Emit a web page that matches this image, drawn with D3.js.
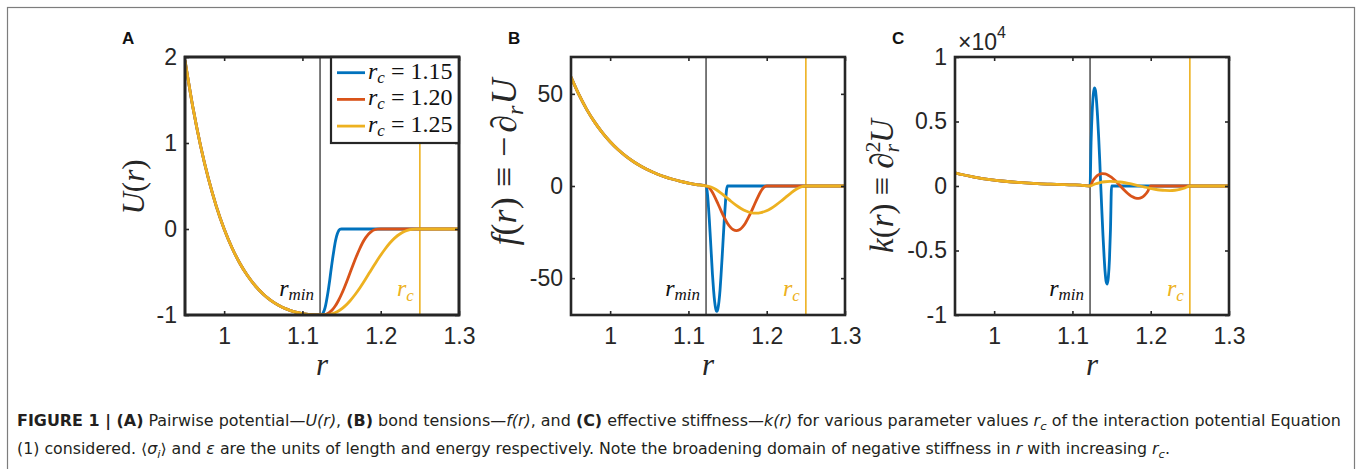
<!DOCTYPE html>
<html><head><meta charset="utf-8">
<script src="https://cdn.jsdelivr.net/npm/d3@7"></script>
<style>body{margin:0;background:#fff;} svg{display:block;}</style>
</head><body>
<svg id="fig" width="1360" height="469"></svg>
<script>
// ---------------- DATA ----------------
// shared Lennard-Jones part (r < r_min)
const rLJ = [0.95, 0.96, 0.97, 0.98, 0.99, 1.00, 1.01, 1.02, 1.03, 1.04, 1.05, 1.06, 1.07, 1.08, 1.09, 1.10, 1.11];
const uLJ = [1.961, 1.418, 0.963, 0.582, 0.264, 0, -0.218, -0.398, -0.544, -0.663, -0.758, -0.832, -0.889, -0.932, -0.963, -0.983, -0.995];
const fLJ = [59.1, 49.67, 41.61, 34.78, 28.95, 24.0, 19.79, 16.21, 13.17, 10.59, 8.40, 6.54, 4.97, 3.65, 2.53, 1.59, 0.80];
const kLJ = [1026, 872, 741, 631, 536, 456, 388, 330, 280, 238, 201, 171, 144, 122, 102, 86, 72];

// cutoff part, r_c = 1.15
const rCut115 = [1.1225, 1.1238, 1.1252, 1.1266, 1.1280, 1.1294, 1.1307, 1.1321, 1.1335, 1.1349, 1.1362, 1.1376, 1.1390, 1.1404, 1.1417, 1.1431, 1.1445, 1.1459, 1.1473, 1.1486, 1.15];
const uCut115 = [-1, -0.9988, -0.9914, -0.9734, -0.9421, -0.8965, -0.8369, -0.7648, -0.6826, -0.5931, -0.5, -0.4069, -0.3174, -0.2352, -0.1631, -0.1035, -0.0579, -0.0266, -0.0086, -0.0012, 0];
const fCut115 = [0, -2.46, -8.82, -17.71, -27.89, -38.30, -48.04, -56.38, -62.74, -66.73, -68.08, -66.73, -62.74, -56.38, -48.04, -38.30, -27.89, -17.71, -8.82, -2.46, 0];
const kCut115 = [0, 3382, 5696, 7061, 7595, 7417, 6645, 5399, 3797, 1958, 0, -1958, -3797, -5399, -6645, -7417, -7595, -7061, -5696, -3382, 0];

// cutoff part, r_c = 1.20
const rCut120 = [1.1225, 1.1263, 1.1302, 1.1341, 1.1380, 1.1419, 1.1457, 1.1496, 1.1535, 1.1574, 1.1612, 1.1651, 1.1690, 1.1729, 1.1767, 1.1806, 1.1845, 1.1884, 1.1922, 1.1961, 1.20];
const uCut120 = [-1, -0.9988, -0.9914, -0.9734, -0.9421, -0.8965, -0.8369, -0.7648, -0.6826, -0.5931, -0.5, -0.4069, -0.3174, -0.2352, -0.1631, -0.1035, -0.0579, -0.0266, -0.0086, -0.0012, 0];
const fCut120 = [0, -0.87, -3.13, -6.29, -9.91, -13.60, -17.06, -20.03, -22.29, -23.70, -24.18, -23.70, -22.29, -20.03, -17.06, -13.60, -9.91, -6.29, -3.13, -0.87, 0];
const kCut120 = [0, 427, 719, 891, 958, 936, 838, 681, 479, 247, 0, -247, -479, -681, -838, -936, -958, -891, -719, -427, 0];

// cutoff part, r_c = 1.25
const rCut125 = [1.1225, 1.1288, 1.1352, 1.1416, 1.1480, 1.1543, 1.1607, 1.1671, 1.1735, 1.1799, 1.1862, 1.1926, 1.1990, 1.2054, 1.2117, 1.2181, 1.2245, 1.2309, 1.2372, 1.2436, 1.25];
const uCut125 = [-1, -0.9988, -0.9914, -0.9734, -0.9421, -0.8965, -0.8369, -0.7648, -0.6826, -0.5931, -0.5, -0.4069, -0.3174, -0.2352, -0.1631, -0.1035, -0.0579, -0.0266, -0.0086, -0.0012, 0];
const fCut125 = [0, -0.53, -1.91, -3.82, -6.02, -8.27, -10.37, -12.17, -13.55, -14.41, -14.70, -14.41, -13.55, -12.17, -10.37, -8.27, -6.02, -3.82, -1.91, -0.53, 0];
const kCut125 = [0, 158, 266, 329, 354, 346, 310, 252, 177, 91, 0, -91, -177, -252, -310, -346, -354, -329, -266, -158, 0];

// flat tail beyond r_c
const rTail = [1.3];
const vTail = [0];

const rMin = 1.1225;
const rCutMarked = 1.25;
const legendValues = ["1.15", "1.20", "1.25"];

const xDomain = [0.95, 1.3];
const xTicks = [1, 1.1, 1.2, 1.3];
const xTickLabels = ["1", "1.1", "1.2", "1.3"];
const yTicksA = [-1, 0, 1, 2];
const yTickLabelsA = ["-1", "0", "1", "2"];
const yTicksB = [-50, 0, 50];
const yTickLabelsB = ["-50", "0", "50"];
const yTicksC = [-10000, -5000, 0, 5000, 10000];
const yTickLabelsC = ["-1", "-0.5", "0", "0.5", "1"];

// ---------------- STYLE ----------------
const colors = ["#0072BD", "#D95319", "#EDB120"];
const AX = "#262626";
const SANS = "'Liberation Sans', Arial, Helvetica, sans-serif";
const SERIF = "'Liberation Serif', 'Times New Roman', serif";
const W = 274, TOP = 57, BOTTOM = 315;

const svg = d3.select("#fig");
svg.append("rect").attr("width", 1360).attr("height", 469).attr("fill", "#fff");
svg.append("rect").attr("x", 7.5).attr("y", 7.5).attr("width", 1347).attr("height", 490)
  .attr("fill", "none").attr("stroke", "#7d7d7d").attr("stroke-width", 1.2);

function build(r0, v0, r1, v1) {
  return r0.map((r, i) => [r, v0[i]])
    .concat(r1.map((r, i) => [r, v1[i]]))
    .concat(rTail.map((r, i) => [r, vTail[i]]));
}

const panels = [
  { key: "A", left: 185, yDomain: [-1, 2], yTicks: yTicksA, yLabels: yTickLabelsA,
    series: [build(rLJ, uLJ, rCut115, uCut115), build(rLJ, uLJ, rCut120, uCut120), build(rLJ, uLJ, rCut125, uCut125)] },
  { key: "B", left: 571, yDomain: [-70, 70], yTicks: yTicksB, yLabels: yTickLabelsB,
    series: [build(rLJ, fLJ, rCut115, fCut115), build(rLJ, fLJ, rCut120, fCut120), build(rLJ, fLJ, rCut125, fCut125)] },
  { key: "C", left: 955, yDomain: [-10000, 10000], yTicks: yTicksC, yLabels: yTickLabelsC,
    series: [build(rLJ, kLJ, rCut115, kCut115), build(rLJ, kLJ, rCut120, kCut120), build(rLJ, kLJ, rCut125, kCut125)] }
];

function styleTicks(g) {
  g.select(".domain").remove();
  g.selectAll(".tick line").attr("stroke", AX).attr("stroke-width", 1.6);
  g.selectAll(".tick text").attr("font-family", SANS).attr("font-size", 23).attr("fill", AX);
}

panels.forEach(p => {
  const x = d3.scaleLinear().domain(xDomain).range([p.left, p.left + W]);
  const y = d3.scaleLinear().domain(p.yDomain).range([BOTTOM, TOP]);
  const g = svg.append("g");
  const clipId = "clip" + p.key;
  svg.append("clipPath").attr("id", clipId).append("rect")
    .attr("x", p.left).attr("y", TOP).attr("width", W).attr("height", BOTTOM - TOP);

  // marker lines
  g.append("line").attr("x1", x(rMin)).attr("x2", x(rMin)).attr("y1", TOP).attr("y2", BOTTOM)
    .attr("stroke", "#222").attr("stroke-width", 1.2);
  g.append("line").attr("x1", x(rCutMarked)).attr("x2", x(rCutMarked)).attr("y1", TOP).attr("y2", BOTTOM)
    .attr("stroke", colors[2]).attr("stroke-width", 1.6);

  const line = d3.line().x(d => x(d[0])).y(d => y(d[1])).curve(d3.curveMonotoneX);
  p.series.forEach((s, i) => {
    g.append("path").datum(s).attr("d", line).attr("fill", "none")
      .attr("stroke", colors[i]).attr("stroke-width", 2.8)
      .attr("stroke-linejoin", "round").attr("clip-path", `url(#${clipId})`);
  });

  // r_min and r_c annotations
  const tm = g.append("text").attr("x", x(rMin) - 6).attr("y", 296).attr("text-anchor", "end")
    .attr("font-family", SERIF).attr("font-style", "italic").attr("fill", "#111");
  tm.append("tspan").attr("font-size", 24).text("r");
  tm.append("tspan").attr("font-size", 17).attr("dy", 4).text("min");
  const tc = g.append("text").attr("x", x(rCutMarked) - 6).attr("y", 296).attr("text-anchor", "end")
    .attr("font-family", SERIF).attr("font-style", "italic").attr("fill", colors[2]);
  tc.append("tspan").attr("font-size", 24).text("r");
  tc.append("tspan").attr("font-size", 17).attr("dy", 5).text("c");

  // axes (ticks inward)
  g.append("g").attr("transform", `translate(0,${BOTTOM})`)
    .call(d3.axisBottom(x).tickValues(xTicks).tickFormat((d, i) => xTickLabels[i]).tickSizeInner(-4).tickSizeOuter(0).tickPadding(13))
    .call(styleTicks);
  g.append("g").attr("transform", `translate(0,${TOP})`)
    .call(d3.axisTop(x).tickValues(xTicks).tickFormat("").tickSizeInner(-4).tickSizeOuter(0))
    .call(styleTicks);
  g.append("g").attr("transform", `translate(${p.left},0)`)
    .call(d3.axisLeft(y).tickValues(p.yTicks).tickFormat((d, i) => p.yLabels[i]).tickSizeInner(-4).tickSizeOuter(0).tickPadding(8))
    .call(styleTicks);
  g.append("g").attr("transform", `translate(${p.left + W},0)`)
    .call(d3.axisRight(y).tickValues(p.yTicks).tickFormat("").tickSizeInner(-4).tickSizeOuter(0))
    .call(styleTicks);

  // box
  g.append("rect").attr("x", p.left).attr("y", TOP).attr("width", W).attr("height", BOTTOM - TOP)
    .attr("fill", "none").attr("stroke", AX).attr("stroke-width", 2.6);

  // x label
  g.append("text").attr("x", p.left + W / 2).attr("y", 375).attr("text-anchor", "middle")
    .attr("font-family", SERIF).attr("font-style", "italic").attr("font-size", 31).attr("fill", AX).text("r");

  // panel letter
  svg.append("text").attr("x", p.left - 63).attr("y", 43.5).attr("font-family", SANS)
    .attr("font-weight", "bold").attr("font-size", 17).attr("fill", "#111").text(p.key);

  // legend in panel A
  if (p.key === "A") {
    const lx = 331, ly = TOP, lw = p.left + W - 331, lh = 86;
    g.append("rect").attr("x", lx).attr("y", ly).attr("width", lw).attr("height", lh)
      .attr("fill", "#fff").attr("stroke", AX).attr("stroke-width", 2.2);
    legendValues.forEach((v, i) => {
      const cy = 72.7 + i * 26.7;
      g.append("line").attr("x1", 337).attr("x2", 365).attr("y1", cy).attr("y2", cy)
        .attr("stroke", colors[i]).attr("stroke-width", 2.8);
      const t = g.append("text").attr("x", 368).attr("y", cy + 6).attr("font-family", SERIF).attr("fill", "#111");
      t.append("tspan").attr("font-size", 24).attr("font-style", "italic").text("r");
      t.append("tspan").attr("font-size", 17).attr("font-style", "italic").attr("dy", 4).text("c");
      t.append("tspan").attr("font-size", 24).attr("dy", -4).text(" = " + v);
    });
    g.append("rect").attr("x", p.left).attr("y", TOP).attr("width", W).attr("height", BOTTOM - TOP)
      .attr("fill", "none").attr("stroke", AX).attr("stroke-width", 2.6);
  }
});

// y labels
function ylab(cx, cy, fs, parts) {
  const t = svg.append("text").attr("transform", `translate(${cx},${cy}) rotate(-90)`)
    .attr("text-anchor", "middle").attr("font-family", SERIF).attr("fill", AX).attr("font-size", fs);
  parts.forEach(pt => {
    const s = t.append("tspan").text(pt.t);
    if (pt.i) s.attr("font-style", "italic");
    if (pt.fs) s.attr("font-size", pt.fs);
    if (pt.dy) s.attr("dy", pt.dy);
    if (pt.dx) s.attr("dx", pt.dx);
  });
}
ylab(144, 187, 31, [{t: "U", i: 1}, {t: "("}, {t: "r", i: 1}, {t: ")"}]);
ylab(516, 162, 36, [{t: "f", i: 1}, {t: "("}, {t: "r", i: 1}, {t: ")"}, {t: "\u2261", dx: 10}, {t: "\u2212", dx: 10},
  {t: "\u2202", dx: 4}, {t: "r", i: 1, fs: 24, dy: 7}, {t: "U", i: 1, dy: -7, dx: 1}]);
ylab(893, 186, 33, [{t: "k", i: 1}, {t: "("}, {t: "r", i: 1}, {t: ")"}, {t: "\u2261", dx: 8}, {t: "\u2202", dx: 8},
  {t: "2", fs: 22, dy: -13}, {t: "r", i: 1, fs: 22, dy: 19, dx: -11}, {t: "U", i: 1, dy: -6, dx: 1}]);

// x10^4 multiplier
const mult = svg.append("text").attr("x", 958).attr("y", 50).attr("font-family", SANS).attr("fill", AX);
mult.append("tspan").attr("font-size", 23).text("\u00d710");
mult.append("tspan").attr("font-size", 16).attr("dy", -12).text("4");

// caption
function captionLine(y, len, parts) {
  const t = svg.append("text").attr("x", 17).attr("y", y)
    .attr("font-family", "'Liberation Sans Narrow', 'DejaVu Sans Condensed', 'Roboto Condensed', 'Liberation Sans', sans-serif")
    .attr("font-size", 15).attr("fill", "#231f20")
    .attr("textLength", len).attr("lengthAdjust", "spacingAndGlyphs");
  parts.forEach(pt => {
    const s = t.append("tspan").text(pt.t);
    if (pt.b) s.attr("font-weight", "bold");
    if (pt.i) s.attr("font-style", "italic");
    if (pt.sub) s.attr("font-size", 11).attr("dy", 4);
    if (pt.up) s.attr("dy", -4);
  });
}
captionLine(426, 1324, [
  {t: "FIGURE 1 | (A)", b: 1}, {t: " Pairwise potential\u2014"}, {t: "U(r)", i: 1}, {t: ", "},
  {t: "(B)", b: 1}, {t: " bond tensions\u2014"}, {t: "f(r)", i: 1}, {t: ", and "},
  {t: "(C)", b: 1}, {t: " effective stiffness\u2014"}, {t: "k(r)", i: 1}, {t: " for various parameter values "},
  {t: "r", i: 1}, {t: "c", i: 1, sub: 1}, {t: " of the interaction potential Equation", up: 1}
]);
captionLine(454, 1153, [
  {t: "(1) considered. \u27e8"}, {t: "\u03c3", i: 1}, {t: "i", i: 1, sub: 1}, {t: "\u27e9 and ", up: 1}, {t: "\u03b5", i: 1},
  {t: " are the units of length and energy respectively. Note the broadening domain of negative stiffness in "},
  {t: "r", i: 1}, {t: " with increasing "}, {t: "r", i: 1}, {t: "c", i: 1, sub: 1}, {t: ".", up: 1}
]);
</script>
</body></html>
